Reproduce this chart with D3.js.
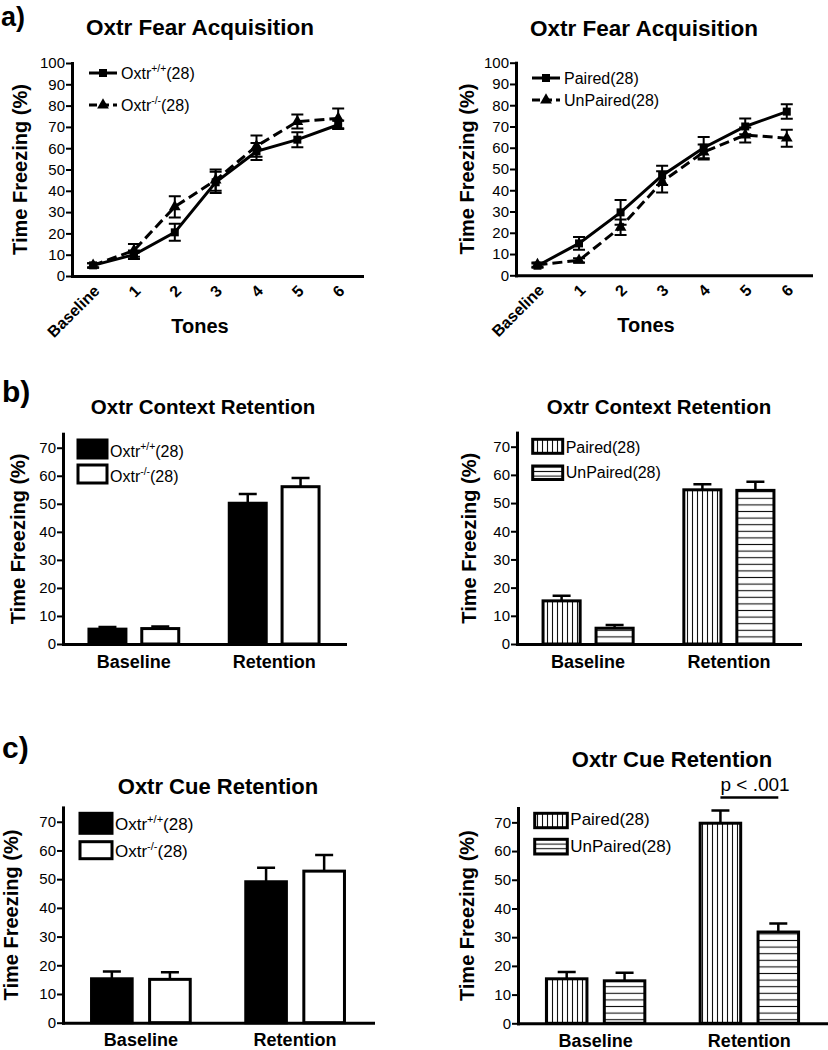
<!DOCTYPE html>
<html>
<head>
<meta charset="utf-8">
<script src="https://cdn.jsdelivr.net/npm/d3@7"></script>
<style>
  body { margin: 0; background: #fff; }
  svg { display: block; }
</style>
</head>
<body>
<svg id="chart" width="828" height="1050"></svg>
<script>
// ---- data ----
const tones = ["Baseline", "1", "2", "3", "4", "5", "6"];
const acqTicks = [0, 10, 20, 30, 40, 50, 60, 70, 80, 90, 100];

const acqWtMean = [5, 10, 20.5, 44, 58.5, 64, 71];
const acqWtSem = [1, 2, 4, 5, 4, 3.5, 2];
const acqKoMean = [5, 12, 32.5, 45, 61, 72.5, 74];
const acqKoSem = [1, 3, 5, 5, 5, 3.3, 4.6];

const acqPairedMean = [4.5, 15, 29.6, 47, 60, 70, 77];
const acqPairedSem = [1, 3, 5.8, 4.5, 5, 3.7, 3.4];
const acqUnpairedMean = [5, 7, 22.6, 44, 58, 66, 64.5];
const acqUnpairedSem = [1, 1, 3.6, 5, 3.5, 3.5, 4];

const phases = ["Baseline", "Retention"];
const retTicks = [0, 10, 20, 30, 40, 50, 60, 70];

const ctxWtMean = [5.3, 50.2];
const ctxWtSem = [0.8, 3.3];
const ctxKoMean = [5.5, 56.1];
const ctxKoSem = [0.7, 3.1];
const ctxPairedMean = [15.3, 54.7];
const ctxPairedSem = [1.8, 2];
const ctxUnpairedMean = [5.6, 54.5];
const ctxUnpairedSem = [1.1, 3.1];

const cueWtMean = [15.3, 49.1];
const cueWtSem = [2.5, 4.9];
const cueKoMean = [15.1, 52.8];
const cueKoSem = [2.5, 5.6];
const cuePairedMean = [15.5, 69.7];
const cuePairedSem = [2.4, 4.4];
const cueUnpairedMean = [14.8, 31.8];
const cueUnpairedSem = [2.8, 3];

const wtLabel = ["Oxtr", "+/+", "(28)"];
const koLabel = ["Oxtr", "-/-", "(28)"];
const pairedLabel = ["Paired(28)"];
const unpairedLabel = ["UnPaired(28)"];
const pText = "p < .001";
const pLevel = 78.7;

// ---- drawing ----
const font = '"Liberation Sans", Arial, Helvetica, sans-serif';
const svg = d3.select("#chart").attr("font-family", font);

const defs = svg.append("defs");
function stripes(id, w, h, vertical) {
  const p = defs.append("pattern").attr("id", id)
    .attr("patternUnits", "userSpaceOnUse").attr("width", w).attr("height", h);
  p.append("rect").attr("width", w).attr("height", h).attr("fill", "#fff");
  p.append("line")
    .attr("x1", vertical ? w / 2 : 0).attr("x2", vertical ? w / 2 : w)
    .attr("y1", vertical ? 0 : h / 2).attr("y2", vertical ? h : h / 2)
    .attr("stroke", "#111").attr("stroke-width", 1.1);
}
stripes("vlines", 5, 10, true);
stripes("hlines", 10, 6.6, false);
stripes("hlinesSmall", 10, 4.6, false);

function styleAxis(g, size) {
  g.attr("font-family", font).attr("font-size", size);
  g.select(".domain").attr("stroke", "#000").attr("stroke-width", 3).attr("stroke-linecap", "square");
  g.selectAll(".tick line").attr("stroke", "#000").attr("stroke-width", 2);
  g.selectAll(".tick text").attr("fill", "#000");
}

function addLabel(sel, parts, size) {
  sel.append("tspan").text(parts[0]);
  if (parts.length > 1) {
    sel.append("tspan").attr("font-size", size * 0.65).attr("dy", -size * 0.42).text(parts[1]);
    sel.append("tspan").attr("dy", size * 0.42).text(parts[2]);
  }
}

function text(x, y, str, size, weight, anchor) {
  return svg.append("text").attr("x", x).attr("y", y).attr("font-size", size)
    .attr("font-weight", weight || "normal").attr("text-anchor", anchor || "start")
    .attr("fill", "#000").text(str);
}

function yTitle(x, y, size) {
  svg.append("text").attr("transform", `translate(${x},${y}) rotate(-90)`)
    .attr("text-anchor", "middle").attr("font-size", size).attr("font-weight", "bold")
    .text("Time Freezing (%)");
}

function lineChart(o) {
  const g = svg.append("g");
  const x = d3.scalePoint().domain(tones).range([o.x0, o.x1]).padding(0.55).align(0.47);
  const y = d3.scaleLinear().domain([0, 100]).range([o.y0, o.y1]);

  o.series.forEach(s => {
    const sg = g.append("g");
    sg.selectAll("path.err").data(s.mean).join("path").attr("class", "err")
      .attr("d", (m, i) => {
        const cx = x(tones[i]), lo = y(m - s.sem[i]), hi = y(m + s.sem[i]);
        return `M${cx},${lo}V${hi}M${cx - 6},${hi}H${cx + 6}M${cx - 6},${lo}H${cx + 6}`;
      })
      .attr("stroke", "#000").attr("stroke-width", 2).attr("fill", "none");
    sg.append("path").datum(s.mean)
      .attr("d", d3.line().x((m, i) => x(tones[i])).y(m => y(m)))
      .attr("fill", "none").attr("stroke", "#000").attr("stroke-width", 3)
      .attr("stroke-dasharray", s.dash);
    sg.selectAll("path.mk").data(s.mean).join("path").attr("class", "mk")
      .attr("transform", (m, i) => `translate(${x(tones[i])},${y(m)})`)
      .attr("d", d3.symbol(s.symbol, s.symbolSize)).attr("fill", "#000");
  });

  g.append("g").attr("transform", `translate(${o.x0},0)`)
    .call(d3.axisLeft(y).tickValues(acqTicks).tickSize(6).tickSizeOuter(0).tickPadding(1))
    .call(a => styleAxis(a, 15));

  const xa = g.append("g").attr("transform", `translate(0,${o.y0})`)
    .call(d3.axisBottom(x).tickSize(0).tickSizeOuter(0))
    .call(a => styleAxis(a, 16));
  xa.selectAll(".tick text").attr("y", 0).attr("dy", "0.35em")
    .attr("text-anchor", "end").attr("font-weight", "bold")
    .attr("transform", "translate(3,12) rotate(-45)");

  // legend
  o.series.forEach((s, i) => {
    const ly = o.legY[i];
    g.append("line").attr("x1", o.legX0).attr("x2", o.legX1).attr("y1", ly).attr("y2", ly)
      .attr("stroke", "#000").attr("stroke-width", 3).attr("stroke-dasharray", s.legDash);
    g.append("path").attr("transform", `translate(${(o.legX0 + o.legX1) / 2},${ly})`)
      .attr("d", d3.symbol(s.symbol, s.symbolSize)).attr("fill", "#000");
    const t = g.append("text").attr("x", o.legX1 + 4).attr("y", ly).attr("dy", "0.35em")
      .attr("font-size", 16);
    addLabel(t, s.label, 16);
  });

  text(o.titleX, o.titleY, o.title, 22.5, "bold", "middle");
  text(o.tonesX, o.tonesY, "Tones", 20, "bold", "middle");
  yTitle(o.yLabX, (o.y0 + o.y1) / 2, 20);
}

function barChart(o) {
  const g = svg.append("g");
  const x = d3.scaleBand().domain(phases).range([o.x0, o.x1]).paddingInner(0.36).paddingOuter(0.185);
  const xs = d3.scaleBand().domain(d3.range(o.series.length)).range([0, x.bandwidth()]).paddingInner(0.3);
  const y = d3.scaleLinear().domain([0, 75]).range([o.y0, o.y1]);

  o.series.forEach((s, k) => {
    const sg = g.append("g");
    sg.selectAll("path").data(s.mean).join("path")
      .attr("d", (m, i) => {
        const cx = x(phases[i]) + xs(k) + xs.bandwidth() / 2;
        const top = y(m + s.sem[i]);
        return `M${cx},${y(m)}V${top}M${cx - 9},${top}H${cx + 9}`;
      })
      .attr("stroke", "#000").attr("stroke-width", 2.5).attr("fill", "none");
    sg.selectAll("rect").data(s.mean).join("rect")
      .attr("x", (m, i) => x(phases[i]) + xs(k))
      .attr("y", m => y(m))
      .attr("width", xs.bandwidth())
      .attr("height", m => y(0) - y(m))
      .attr("fill", s.fill).attr("stroke", "#000").attr("stroke-width", 3);
  });

  g.append("g").attr("transform", `translate(${o.x0},0)`)
    .call(d3.axisLeft(y).tickValues(retTicks).tickSize(6).tickSizeOuter(0).tickPadding(1))
    .call(a => styleAxis(a, 15));
  g.append("g").attr("transform", `translate(0,${o.y0})`)
    .call(d3.axisBottom(x).tickSize(0).tickSizeOuter(0).tickPadding(11))
    .call(a => styleAxis(a, 18))
    .selectAll(".tick text").attr("font-weight", "bold");

  // legend
  o.series.forEach((s, i) => {
    g.append("rect").attr("x", o.legX).attr("y", o.legY[i])
      .attr("width", o.legW).attr("height", o.legH[i])
      .attr("fill", s.legFill || s.fill).attr("stroke", "#000").attr("stroke-width", 3);
    const t = g.append("text").attr("x", o.legX + o.legW + 3).attr("y", o.legBase[i])
      .attr("font-size", o.legSize);
    addLabel(t, s.label, o.legSize);
  });

  if (o.pValue) {
    const xa = x("Retention") + xs(0) + xs.bandwidth() / 2;
    const xb = x("Retention") + xs(1) + xs.bandwidth() / 2;
    g.append("line").attr("x1", xa).attr("x2", xb).attr("y1", y(pLevel)).attr("y2", y(pLevel))
      .attr("stroke", "#000").attr("stroke-width", 2.5);
    text(xa, y(pLevel) - 6, pText, 19, "normal", "start");
  }

  text(o.titleX, o.titleY, o.title, o.titleSize, "bold", "middle");
  yTitle(o.yLabX, (o.y0 + o.y1) / 2, 20);
}

// panel letters
text(1, 26, "a)", 27, "bold");
text(2, 402, "b)", 30, "bold");
text(2, 758, "c)", 30, "bold");

const solid = null;
const dashed = "10,5";

lineChart({
  x0: 72, x1: 362, y0: 276, y1: 63,
  title: "Oxtr Fear Acquisition", titleX: 200, titleY: 35,
  tonesX: 200, tonesY: 333, yLabX: 27,
  legX0: 89, legX1: 117, legY: [73, 105],
  series: [
    { mean: acqWtMean, sem: acqWtSem, dash: solid, legDash: solid, symbol: d3.symbolSquare, symbolSize: 64, label: wtLabel },
    { mean: acqKoMean, sem: acqKoSem, dash: dashed, legDash: "8,4", symbol: d3.symbolTriangle, symbolSize: 60, label: koLabel }
  ]
});

lineChart({
  x0: 516, x1: 811, y0: 275.3, y1: 62.7,
  title: "Oxtr Fear Acquisition", titleX: 644, titleY: 36,
  tonesX: 646, tonesY: 332, yLabX: 474,
  legX0: 532, legX1: 560, legY: [78, 100],
  series: [
    { mean: acqPairedMean, sem: acqPairedSem, dash: solid, legDash: solid, symbol: d3.symbolSquare, symbolSize: 64, label: pairedLabel },
    { mean: acqUnpairedMean, sem: acqUnpairedSem, dash: dashed, legDash: "8,4", symbol: d3.symbolTriangle, symbolSize: 60, label: unpairedLabel }
  ]
});

barChart({
  x0: 63, x1: 345, y0: 644, y1: 433.7,
  title: "Oxtr Context Retention", titleX: 203, titleY: 414, titleSize: 20.5, yLabX: 25,
  legX: 78, legW: 29, legY: [440, 465], legH: [18, 18], legBase: [456.7, 481.7], legSize: 16,
  series: [
    { mean: ctxWtMean, sem: ctxWtSem, fill: "#000", label: wtLabel },
    { mean: ctxKoMean, sem: ctxKoSem, fill: "#fff", label: koLabel }
  ]
});

barChart({
  x0: 517, x1: 800, y0: 644, y1: 432.6,
  title: "Oxtr Context Retention", titleX: 659, titleY: 414, titleSize: 20.5, yLabX: 476,
  legX: 532.7, legW: 30, legY: [439.3, 466], legH: [14, 13.5], legBase: [452.7, 478.3], legSize: 16,
  series: [
    { mean: ctxPairedMean, sem: ctxPairedSem, fill: "url(#vlines)", label: pairedLabel },
    { mean: ctxUnpairedMean, sem: ctxUnpairedSem, fill: "url(#hlines)", legFill: "url(#hlinesSmall)", label: unpairedLabel }
  ]
});

barChart({
  x0: 63, x1: 373, y0: 1022.7, y1: 807.4,
  title: "Oxtr Cue Retention", titleX: 218, titleY: 794, titleSize: 22, yLabX: 18,
  legX: 80, legW: 32, legY: [813.3, 841.7], legH: [20, 17], legBase: [830, 856.7], legSize: 17,
  series: [
    { mean: cueWtMean, sem: cueWtSem, fill: "#000", label: wtLabel },
    { mean: cueKoMean, sem: cueKoSem, fill: "#fff", label: koLabel }
  ]
});

barChart({
  x0: 518, x1: 827, y0: 1023.3, y1: 808,
  title: "Oxtr Cue Retention", titleX: 672, titleY: 767, titleSize: 22, yLabX: 474,
  legX: 534.7, legW: 32.6, legY: [813.3, 839.3], legH: [14.4, 14.7], legBase: [825, 851.7], legSize: 17,
  pValue: true,
  series: [
    { mean: cuePairedMean, sem: cuePairedSem, fill: "url(#vlines)", label: pairedLabel },
    { mean: cueUnpairedMean, sem: cueUnpairedSem, fill: "url(#hlines)", legFill: "url(#hlinesSmall)", label: unpairedLabel }
  ]
});
</script>
</body>
</html>
